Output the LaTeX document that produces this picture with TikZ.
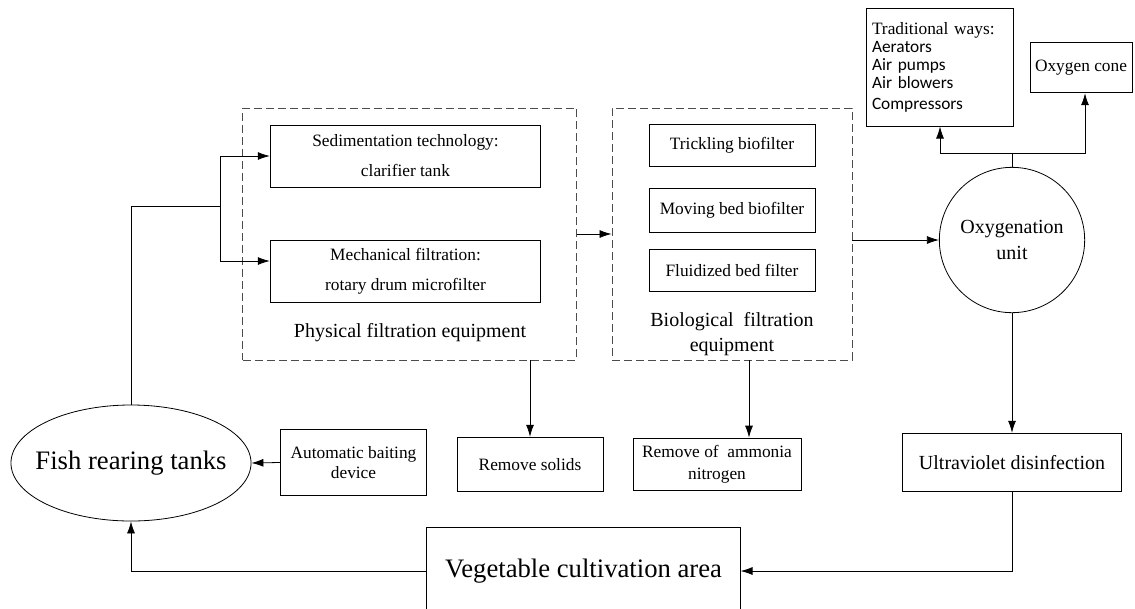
\documentclass[tikz,border=0pt]{standalone}
\usepackage{fontspec}
\setmainfont{Liberation Serif}
\newfontfamily\sansfont{Carlito}
\usepackage{tikz}
\usetikzlibrary{arrows.meta}
\usetikzlibrary{shapes}
\tikzstyle{unit}=[draw,rectangle,align=center,inner sep=0pt,line width=0.6pt,
font=\fontsize{13}{16}\selectfont]
\tikzstyle{group}=[draw=black!70,rectangle,dash pattern=on 6pt off 3pt,line width=0.7pt]
\tikzstyle{flow}=[draw,line width=0.6pt,-{Latex[length=9pt,width=6pt]}]
\tikzstyle{link}=[draw,line width=0.6pt]
\tikzstyle{big}=[font=\fontsize{20}{24}\selectfont]
\tikzstyle{mid}=[font=\fontsize{15}{18.5}\selectfont]

\begin{document}
\begin{tikzpicture}[x=0.75pt,y=-0.75pt]
	\useasboundingbox (0,0) rectangle (1135,608);
	
	% filtration groups
	\node[group,minimum width=250pt,minimum height=189pt] (phys) at (409.5,234) {};
	\node[group,minimum width=180pt,minimum height=189pt] (bio) at (732,234) {};
	\node[mid] (physlabel) at (410,333) {Physical filtration equipment};
	\node[mid,align=center] (biolabel) at (732,334) {Biological\ \ filtration\\equipment};
	
	\node[unit,minimum width=203pt,minimum height=46.5pt,font=\fontsize{13}{22.5}\selectfont]
	(sed) at (405.5,156) {Sedimentation technology:\\clarifier tank};
	\node[unit,minimum width=203pt,minimum height=46.5pt,font=\fontsize{13}{22.5}\selectfont]
	(mech) at (405.5,271) {Mechanical filtration:\\rotary drum microfilter};
	
	\node[unit,minimum width=124.5pt,minimum height=32pt] (trick) at (732,145.5) {Trickling biofilter};
	\node[unit,minimum width=124.5pt,minimum height=33pt] (moving) at (732,210) {Moving bed biofilter};
	\node[unit,minimum width=124.5pt,minimum height=32pt] (fluid) at (732,270.5) {Fluidized bed filter};
	
	% main loop
	\node[big,draw,ellipse,line width=0.6pt,inner xsep=-8pt,inner ysep=0pt,minimum width=178.5pt,minimum height=87pt]
	(fish) at (131,463) {Fish rearing tanks};
	\node[unit,minimum width=110pt,minimum height=49pt,font=\fontsize{13}{15}\selectfont]
	(bait) at (353.5,462.5) {Automatic baiting\\device};
	\node[unit,minimum width=109.5pt,minimum height=41pt] (solids) at (530,464.5) {Remove solids};
	\node[unit,minimum width=126pt,minimum height=39pt,font=\fontsize{13}{16.5}\selectfont]
	(ammonia) at (717,464) {Remove of\ \ ammonia\\nitrogen};
	\node[mid,draw,circle,line width=0.6pt,inner sep=0pt,minimum size=109pt,align=center,
	font=\fontsize{15}{19}\selectfont] (oxy) at (1012,240) {Oxygenation\\unit};
	\node[unit,mid,minimum width=164pt,minimum height=44pt] (uv) at (1012,462.5) {Ultraviolet disinfection};
	\node[unit,big,minimum width=235pt,minimum height=66pt] (veg) at (583.5,571) {Vegetable cultivation area};
	
	% oxygen supply
	\node[unit,minimum width=109.5pt,minimum height=88pt,align=left,text width=102pt,inner xsep=4pt,
	font=\fontsize{13}{13.5}\selectfont] (trad) at (940,67.5)
	{Traditional ways:\\{\sansfont Aerators}\\{\sansfont Air pumps}\\{\sansfont Air blowers}\\[2pt]{\sansfont Compressors}};
	\node[unit,minimum width=76.5pt,minimum height=38pt] (cone) at (1081,67.5) {Oxygen cone};
	
	\coordinate (fork) at (220,206);
	\coordinate (split) at (1012,153);
	
	\path[link] (fish.north) |- (fork);
	\path[flow] (fork) |- (sed.west);
	\path[flow] (fork) |- ([yshift=7.5pt]mech.west);
	\path[flow] (phys.east) -- (bio.west);
	\path[flow] (bio.east |- oxy.west) -- (oxy.west);
	\path[flow] (phys.south -| solids.north) -- (solids.north);
	\path[flow] ([xshift=12.75pt]bio.south) -- ([xshift=12.75pt]bio.south |- ammonia.north);
	
	\path[link] (oxy.north) -- (split);
	\path[flow] (split) -| (trad.south);
	\path[flow] (split) -| ([xshift=3pt]cone.south);
	\path[flow] (oxy.south) -- (uv.north);
	
	\path[flow] (uv.south) |- (veg.east);
	\path[flow] (veg.west) -| (fish.south);
	\path[flow] (bait.west) -- (fish.east);
	
\end{tikzpicture}
\end{document}
